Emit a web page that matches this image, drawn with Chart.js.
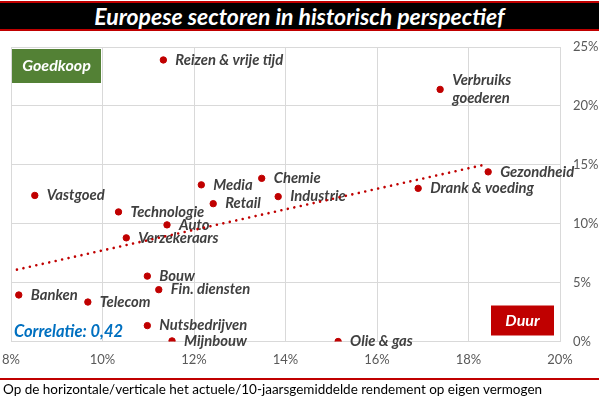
<!DOCTYPE html>
<html>
<head>
<meta charset="utf-8">
<script src="https://cdn.jsdelivr.net/npm/chart.js@4.4.1/dist/chart.umd.min.js"></script>
<style>
  body { margin: 0; background: #fff; }
  #wrap { position: relative; width: 599px; height: 399px; overflow: hidden; }
  #title {
    position: absolute; left: 0; top: 1px; width: 599px; height: 26px;
    background: #000; border-top: 2px solid #c00000; border-bottom: 2px solid #c00000;
    color: #fff; font: italic bold 23px Lato, sans-serif; text-align: center; line-height: 26px;
  }
  #foot {
    position: absolute; left: 0; top: 378px; width: 599px; height: 21px;
    border-top: 2px solid #c00000;
    color: #000; font: 13.5px Lato, sans-serif; padding-left: 3px; line-height: 19px;
  }
  #box { position: absolute; left: 0; top: 0; width: 599px; height: 399px; }
</style>
</head>
<body>
<div id="wrap">
  <div id="box"><canvas id="sectorChart"></canvas></div>
  <div id="title">Europese sectoren in historisch perspectief</div>
  <div id="foot">Op de horizontale/verticale het actuele/10-jaarsgemiddelde rendement op eigen vermogen</div>
</div>
<script>
// Sectoren met actueel (x) en 10-jaarsgemiddeld (y) rendement op eigen vermogen, in %
var sectors = ['Reizen & vrije tijd', ['Verbruiks', 'goederen'], 'Gezondheid', 'Drank & voeding',
  'Vastgoed', 'Media', 'Chemie', 'Industrie', 'Retail', 'Technologie', 'Auto', 'Verzekeraars',
  'Bouw', 'Fin. diensten', 'Banken', 'Telecom', 'Nutsbedrijven', 'Mijnbouw', 'Olie & gas'];
var actueel = [11.33, 17.38, 18.43, 16.9, 8.52, 12.16, 13.48, 13.84, 12.42, 10.35, 11.41, 10.52,
  10.98, 11.23, 8.17, 9.68, 10.98, 11.52, 15.15];
var gemiddeld = [23.9, 21.4, 14.4, 13.0, 12.4, 13.3, 13.85, 12.3, 11.7, 11.0, 9.9, 8.8,
  5.55, 4.4, 3.95, 3.35, 1.35, 0.05, 0.0];

var trendX = [8.13, 18.41];
var trendY = [6.1, 15.06];

var xTicks = [8, 10, 12, 14, 16, 18, 20];
var yTicks = [0, 5, 10, 15, 20, 25];

var points = actueel.map(function (v, i) { return { x: v, y: gemiddeld[i] }; });
var trend = trendX.map(function (v, i) { return { x: v, y: trendY[i] }; });

Chart.defaults.font.family = 'Lato, sans-serif';

// labels naast de punten
var labelPlugin = {
  id: 'sectorLabels',
  beforeDatasetsDraw: function (chart) {
    var ctx = chart.ctx;
    var meta = chart.getDatasetMeta(1);
    ctx.save();
    ctx.font = 'italic bold 14.8px Lato, sans-serif';
    ctx.fillStyle = '#404040';
    ctx.textBaseline = 'middle';
    meta.data.forEach(function (pt, i) {
      var lbl = sectors[i];
      if (Array.isArray(lbl)) {
        ctx.fillText(lbl[0], pt.x + 12, pt.y - 9);
        ctx.fillText(lbl[1], pt.x + 12, pt.y + 9);
      } else {
        ctx.fillText(lbl, pt.x + 12, pt.y);
      }
    });
    ctx.restore();
  },
  afterDraw: function (chart) {
    var ctx = chart.ctx;
    var a = chart.chartArea;
    ctx.save();
    ctx.fillStyle = '#538135';
    ctx.fillRect(a.left + 1, a.top + 2, 89, 34);
    ctx.fillStyle = '#c00000';
    ctx.fillRect(a.right - 69, a.bottom - 36, 63, 30);
    ctx.font = 'italic bold 16px Lato, sans-serif';
    ctx.textAlign = 'center';
    ctx.textBaseline = 'middle';
    ctx.fillStyle = '#fff';
    ctx.fillText('Goedkoop', a.left + 45.5, a.top + 19);
    ctx.fillText('Duur', a.right - 37.5, a.bottom - 21);
    ctx.textAlign = 'left';
    ctx.fillStyle = '#0070c0';
    ctx.font = 'italic bold 16.5px Lato, sans-serif';
    ctx.fillText('Correlatie: 0,42', a.left + 3, a.bottom - 10);
    ctx.restore();
  }
};

var ctx = document.getElementById('sectorChart').getContext('2d');
var sectorChart = new Chart(ctx, {
  type: 'scatter',
  data: {
    datasets: [{
      type: 'line',
      data: trend,
      borderColor: '#c00000',
      borderWidth: 2.6,
      borderDash: [0.01, 6.6],
      borderCapStyle: 'round',
      pointRadius: 0,
      fill: false
    }, {
      data: points,
      backgroundColor: '#c00000',
      borderColor: '#c00000',
      pointRadius: 3.2,
      pointHoverRadius: 3.2
    }]
  },
  options: {
    responsive: true,
    maintainAspectRatio: false,
    animation: false,
    layout: { padding: { top: 47, left: 11, right: 0, bottom: 0 } },
    plugins: { legend: { display: false }, tooltip: { enabled: false } },
    scales: {
      x: {
        type: 'linear', min: 8, max: 20,
        afterFit: function (s) { s.height = 57.5; s.paddingLeft = 0; s.paddingRight = 0; },
        afterBuildTicks: function (s) { s.ticks = xTicks.map(function (v) { return { value: v }; }); },
        grid: { color: '#d9d9d9', drawTicks: false },
        border: { color: '#d9d9d9' },
        ticks: { padding: 11, color: '#595959', font: { size: 13 }, callback: function (v) { return v + '%'; } }
      },
      y: {
        type: 'linear', position: 'right', min: 0, max: 25,
        afterFit: function (s) { s.width = 39; s.paddingTop = 0; s.paddingBottom = 0; },
        afterBuildTicks: function (s) { s.ticks = yTicks.map(function (v) { return { value: v }; }); },
        grid: { color: '#d9d9d9', drawTicks: false },
        border: { color: '#d9d9d9' },
        ticks: { padding: 13, color: '#595959', font: { size: 13 }, callback: function (v) { return v + '%'; } }
      }
    }
  },
  plugins: [labelPlugin]
});
</script>
</body>
</html>
